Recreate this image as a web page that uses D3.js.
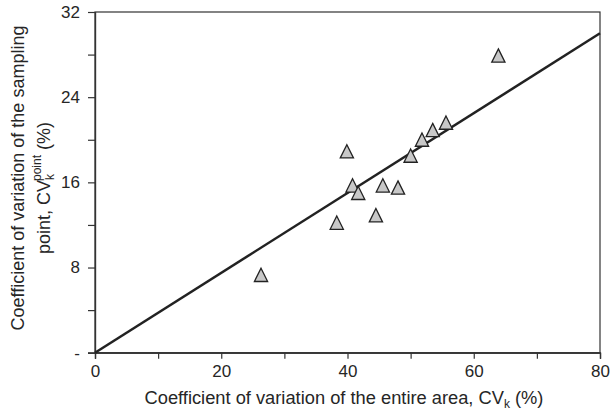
<!DOCTYPE html>
<html><head><meta charset="utf-8">
<script src="https://cdn.jsdelivr.net/npm/d3@7"></script>
<style>body{margin:0;background:#fff}text{font-family:"Liberation Sans",Arial,sans-serif;fill:#262626}</style>
</head><body><svg id="c" width="610" height="415"></svg>
<script>
const xVals = [26.3, 38.3, 39.9, 40.8, 41.7, 44.5, 45.6, 48.0, 50.0, 51.8, 53.5, 55.6, 63.9];
const yVals = [7.3, 12.2, 18.9, 15.7, 15.0, 12.9, 15.7, 15.5, 18.5, 20.0, 20.9, 21.6, 27.9];
const fitLine = [[0, 0], [80, 30]];
const xMajorTicks = [0, 20, 40, 60, 80];
const xMinorTicks = [10, 30, 50, 70];
const yMajorTicks = [0, 8, 16, 24, 32];
const yTickLabels = ["-", "8", "16", "24", "32"];
const yMinorTicks = [4, 12, 20, 28];

const svg = d3.select("#c");
const L = 95, R = 600, T = 12, B = 352.7;
const x = d3.scaleLinear().domain([0, 80]).range([L, R]);
const y = d3.scaleLinear().domain([0, 32]).range([B, T]);
const col = "#222";
const txt = "#262626";
const FF = '"Liberation Sans",Arial,sans-serif';

// frame
svg.append("rect").attr("x", L).attr("y", T).attr("width", R - L).attr("height", B - T)
  .attr("fill", "none").attr("stroke", "#333").attr("stroke-width", 1.2);

// axes
const xAxis = d3.axisBottom(x).tickValues(xMajorTicks).tickSize(6).tickPadding(6);
const gx = svg.append("g").attr("transform", `translate(0,${B})`).call(xAxis);
const xMinor = svg.append("g").attr("transform", `translate(0,${B})`)
  .call(d3.axisBottom(x).tickValues(xMinorTicks).tickSize(6).tickFormat(""));
const yAxis = d3.axisLeft(y).tickValues(yMajorTicks).tickSize(7).tickPadding(8)
  .tickFormat((d, i) => yTickLabels[i]);
const gy = svg.append("g").attr("transform", `translate(${L},0)`).call(yAxis);
const yMinor = svg.append("g").attr("transform", `translate(${L},0)`)
  .call(d3.axisLeft(y).tickValues(yMinorTicks).tickSize(7).tickFormat(""));
[gx, xMinor, gy, yMinor].forEach(g => {
  g.select(".domain").attr("stroke", "#333").attr("stroke-width", 1.2);
  g.selectAll(".tick line").attr("stroke", "#333").attr("stroke-width", 1.2);
  g.selectAll("text").attr("font-size", 17).attr("font-family", FF).attr("fill", txt);
});

// fit line
svg.append("path").datum(fitLine)
  .attr("d", d3.line().x(d => x(d[0])).y(d => y(d[1])))
  .attr("stroke", col).attr("stroke-width", 2.5).attr("fill", "none");

// points
const triPath = "M0,-6.8L6.6,6.5L-6.6,6.5Z";
svg.append("g").selectAll("path").data(xVals.map((v, i) => [v, yVals[i]])).join("path")
  .attr("transform", d => `translate(${x(d[0])},${y(d[1])})`)
  .attr("d", triPath).attr("fill", "#c8c8c8").attr("stroke", col).attr("stroke-width", 1.3)
  .attr("stroke-linejoin", "miter");

// x title
const xt = svg.append("text").attr("x", 344).attr("y", 404).attr("text-anchor", "middle").attr("font-size", 18.3);
xt.append("tspan").text("Coefficient of variation of the entire area, CV");
xt.append("tspan").text("k").attr("font-size", 12).attr("dy", 4);
xt.append("tspan").text(" (%)").attr("dy", -4);

// y title
const yt = svg.append("g").attr("transform", "translate(0,178) rotate(-90)");
yt.append("text").attr("x", 0).attr("y", 24).attr("text-anchor", "middle").attr("font-size", 18)
  .text("Coefficient of variation of the sampling");
const y2 = yt.append("text").attr("x", -10).attr("y", 50).attr("text-anchor", "middle").attr("font-size", 18);
y2.append("tspan").text("point, CV");
y2.append("tspan").text("k").attr("font-size", 12).attr("dy", 4);
y2.append("tspan").text("point").attr("font-size", 12).attr("dx", -7).attr("dy", -13);
y2.append("tspan").text(" (%)").attr("dy", 9);
</script></body></html>
